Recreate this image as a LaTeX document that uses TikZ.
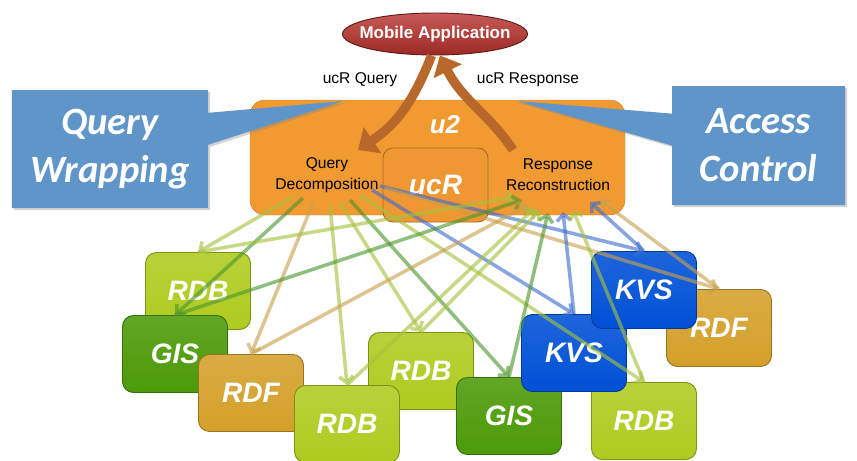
\documentclass[tikz,border=0pt]{standalone}
\usepackage{fontspec}
\setmainfont{Liberation Sans}
\newfontfamily\bullefont{Carlito}
\usetikzlibrary{positioning,calc,arrows.meta,shapes.geometric,shapes.callouts,shadows}

\definecolor{vertclair}{HTML}{AFCB1F}
\definecolor{vertfonce}{HTML}{4C9A08}
\definecolor{ocre}{HTML}{D4A02A}
\definecolor{bleukvs}{HTML}{0050D6}
\definecolor{orangeu}{HTML}{F29A32}
\definecolor{brun}{HTML}{B8682A}
\definecolor{bleubulle}{HTML}{5F95C8}
\definecolor{rouge}{HTML}{B8312C}
\definecolor{lvert}{HTML}{A5C23E}
\definecolor{lfonce}{HTML}{4C962C}
\definecolor{locre}{HTML}{C9A04C}
\definecolor{lbleu}{HTML}{3F6CCF}

\tikzset{
  source/.style={rounded corners=3.3mm, minimum width=31.5mm, minimum height=23.1mm,
    top color=#1!88!white, bottom color=#1, draw=#1!72!black, line width=0.8pt, text=white,
    font=\fontsize{24}{24}\selectfont\bfseries\itshape},
  lien/.style={draw=#1, line width=3pt, opacity=0.62,
    -{Straight Barb[length=5.5pt,width=12pt]}},
  bulle/.style={rectangle callout, fill=bleubulle, text=white, align=center,
    font=\bullefont\bfseries\itshape\fontsize{33}{41}\selectfont, callout pointer width=9.6mm,
    drop shadow={opacity=0.35,shadow xshift=0.6mm,shadow yshift=-0.6mm}},
  fleche/.style={draw=brun, line width=8pt, -{Triangle[length=15pt,width=26pt]}},
  etiq/.style={font=\fontsize{13.3}{18}\selectfont, align=center}
}

\begin{document}
\begin{tikzpicture}[x=0.3mm,y=-0.3mm]
  \useasboundingbox (0,0) rectangle (857,460);

  % Bloc u2 et ucR
  \node[rounded corners=4.5mm, fill=orangeu, draw=orangeu!85!black,
    minimum width=112.5mm, minimum height=34.5mm] (u2) at (437.5,157.5) {};
  \node[text=white, font=\fontsize{22}{22}\selectfont\bfseries\itshape] (u2lab) at (445,125) {u2};
  \node[rounded corners=3mm, fill=orangeu!95!brun, draw=orangeu!70!black, line width=0.8pt,
    minimum width=31.5mm, minimum height=22.2mm, text=white,
    font=\fontsize{24}{24}\selectfont\bfseries\itshape] (ucr) at (435.5,185) {ucR};
  \node[etiq] (qd) at (327,175) {Query\\Decomposition};
  \node[etiq] (rr) at (558,175) {Response\\Reconstruction};

  % Sources de données
  \node[source=vertclair] (rdbA) at (198,291) {RDB};
  \node[source=vertfonce] (gisA) at (175,354) {GIS};
  \node[source=ocre] (rdfA) at (251,393) {RDF};
  \node[source=vertclair] (rdbC) at (421,371) {RDB};
  \node[source=vertclair] (rdbB) at (347,424) {RDB};
  \node[source=vertfonce] (gisB) at (509,416) {GIS};
  \node[source=vertclair] (rdbD) at (644,421) {RDB};
  \node[source=bleukvs] (kvsA) at (574,353) {KVS};
  \node[source=ocre] (rdfB) at (719,328) {RDF};
  \node[source=bleukvs] (kvsB) at (644,290) {KVS};

  % Décomposition vers les sources
  \draw[lien=lvert] ($(qd)+(-34,22)$) -- (rdbA.north);
  \draw[lien=lfonce] ($(qd)+(-24,23)$) -- (gisA.north);
  \draw[lien=locre] ($(qd)+(-14,28)$) -- (rdfA.north);
  \draw[lien=lvert] ($(qd)+(3,30)$) -- (rdbB.north);
  \draw[lien=lvert] ($(qd)+(13,28)$) -- (rdbC.north);
  \draw[lien=lfonce] ($(qd)+(23,25)$) -- (gisB.north);
  \draw[lien=lvert] ($(qd)+(33,20)$) -- (rdbD.north);
  \draw[lien=lbleu] ($(qd)+(45,15)$) -- (kvsA.north);
  \draw[lien=lbleu] ($(qd)+(53,11)$) -- (kvsB.north);
  \draw[lien=locre] ($(qd)+(58,13)$) -- (rdfB.north);

  % Sources vers la reconstruction
  \draw[lien=lvert] (rdbA.north) -- ($(rr)+(-43,22)$);
  \draw[lien=lfonce] (gisA.north) -- ($(rr)+(-36,25)$);
  \draw[lien=locre] (rdfA.north) -- ($(rr)+(-30,30)$);
  \draw[lien=lvert] (rdbB.north) -- ($(rr)+(-23,33)$);
  \draw[lien=lvert] (rdbC.north) -- ($(rr)+(-18,35)$);
  \draw[lien=lfonce] (gisB.north) -- ($(rr)+(-10,38)$);
  \draw[lien=lbleu] (kvsA.north) -- ($(rr)+(5,37)$);
  \draw[lien=lvert] (rdbD.north) -- ($(rr)+(15,35)$);
  \draw[lien=lbleu] (kvsB.north) -- ($(rr)+(32,27)$);
  \draw[lien=locre] (rdfB.north) -- ($(rr)+(42,25)$);

  % Bulles
  \node[bulle, minimum width=58.8mm, minimum height=35.4mm,
    callout absolute pointer={(343,101)}] (qw) at (110,149) {Query\\Wrapping};
  \node[bulle, minimum width=51.9mm, minimum height=35.7mm,
    callout absolute pointer={(517,101)}] (ac) at (758.5,145.5) {Access\\Control};

  % Application mobile
  \node[ellipse, minimum width=55.5mm, minimum height=12.6mm, inner sep=0pt,
    top color=rouge!80!white, bottom color=rouge!85!black, draw=rouge!55!black,
    line width=0.8pt] (app) at (435,34) {};
  \node[text=white, font=\fontsize{14.5}{14.5}\selectfont\bfseries] (applab) at (app) {Mobile Application};
  \draw[fleche] (app.261) .. controls (412,105) and (395,125) .. ($(qd)+(31,-25)$);
  \draw[fleche] ($(rr)+(-45,-25)$) .. controls (490,115) and (462,100) .. (app.283);
  \node[etiq] (lq) at (360,80) {ucR Query};
  \node[etiq] (lr) at (528,80) {ucR Response};
\end{tikzpicture}
\end{document}
